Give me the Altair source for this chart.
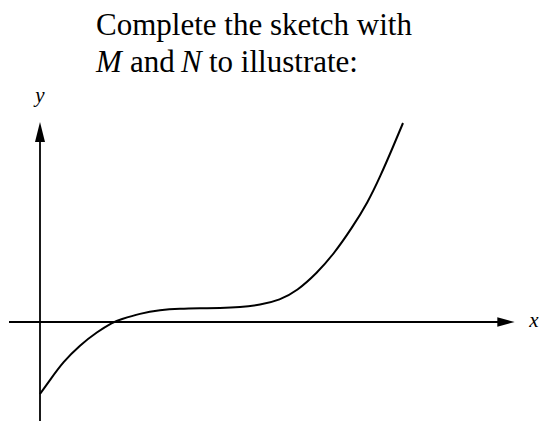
import altair as alt
import pandas as pd

# Curve sample points (x, y) in sketch units
curve_x = [0.0, 0.5, 1.15, 2.0, 2.85, 3.65, 4.0, 5.0, 6.0, 7.0, 8.0, 9.0, 10.0,
           11.0, 12.0, 12.85, 13.85, 14.65, 15.6, 16.4, 17.0, 17.65, 18.15]
curve_y = [-3.6, -2.9, -2.0, -1.15, -0.5, 0.0, 0.12, 0.43, 0.6, 0.665, 0.685, 0.7, 0.74,
           0.85, 1.1, 1.55, 2.45, 3.35, 4.7, 6.0, 7.25, 8.75, 9.95]

# Axis extents
x_axis_from, x_axis_to = -1.55, 23.3
y_axis_from, y_axis_to = -4.95, 9.6

# Heading pieces: text, italic?, x start, baseline y
heading_text = ["Complete the sketch with", "M", "and", "N", "to illustrate:"]
heading_italic = [False, True, False, True, False]
heading_x = [2.8, 2.8, 4.5, 7.05, 8.45]
heading_y = [14.35, 12.5, 12.5, 12.5, 12.5]

XS = alt.Scale(domain=[-2, 25], nice=False, zero=False)
YS = alt.Scale(domain=[-5.15, 16.1], nice=False, zero=False)

curve = pd.DataFrame({"x": curve_x, "y": curve_y})
curve_chart = alt.Chart(curve).mark_line(
    color="black", strokeWidth=2, interpolate="basis"
).encode(
    x=alt.X("x:Q", scale=XS, axis=None),
    y=alt.Y("y:Q", scale=YS, axis=None),
)

x_axis = alt.Chart(pd.DataFrame({"x": [x_axis_from], "x2": [x_axis_to], "y": [0]})).mark_rule(
    color="black", strokeWidth=1.8
).encode(x=alt.X("x:Q", scale=XS, axis=None), x2="x2:Q", y=alt.Y("y:Q", scale=YS, axis=None))

y_axis = alt.Chart(pd.DataFrame({"x": [0], "y": [y_axis_from], "y2": [y_axis_to]})).mark_rule(
    color="black", strokeWidth=1.8
).encode(x=alt.X("x:Q", scale=XS, axis=None), y=alt.Y("y:Q", scale=YS, axis=None), y2="y2:Q")

x_arrow = alt.Chart(pd.DataFrame({"x": [23.3], "y": [0]})).mark_point(
    shape="M1,0L-1,0.55L-1,-0.55Z", size=300, filled=True, color="black", opacity=1
).encode(x=alt.X("x:Q", scale=XS, axis=None), y=alt.Y("y:Q", scale=YS, axis=None))

y_arrow = alt.Chart(pd.DataFrame({"x": [0], "y": [9.5]})).mark_point(
    shape="M0,-1L0.5,1L-0.5,1Z", size=400, filled=True, color="black", opacity=1
).encode(x=alt.X("x:Q", scale=XS, axis=None), y=alt.Y("y:Q", scale=YS, axis=None))

axis_labels = pd.DataFrame({"t": ["x", "y"], "x": [24.7, 0.0], "y": [-0.25, 11.0]})
axis_label_chart = alt.Chart(axis_labels).mark_text(
    font="Liberation Serif", fontSize=21, fontStyle="italic", align="center",
    baseline="alphabetic", color="black"
).encode(x=alt.X("x:Q", scale=XS, axis=None), y=alt.Y("y:Q", scale=YS, axis=None), text="t:N")

heading = pd.DataFrame({"t": heading_text, "it": heading_italic, "x": heading_x, "y": heading_y})
heading_upright = alt.Chart(heading).transform_filter("!datum.it").mark_text(
    font="Liberation Serif", fontSize=31, align="left", baseline="alphabetic", color="black"
).encode(x=alt.X("x:Q", scale=XS, axis=None), y=alt.Y("y:Q", scale=YS, axis=None), text="t:N")
heading_italic_chart = alt.Chart(heading).transform_filter("datum.it").mark_text(
    font="Liberation Serif", fontSize=31, fontStyle="italic", align="left",
    baseline="alphabetic", color="black"
).encode(x=alt.X("x:Q", scale=XS, axis=None), y=alt.Y("y:Q", scale=YS, axis=None), text="t:N")

chart = alt.layer(
    x_axis, y_axis, x_arrow, y_arrow, curve_chart, axis_label_chart,
    heading_upright, heading_italic_chart
).properties(
    width=540, height=425, autosize=alt.AutoSizeParams(type="none"), padding=0,
    background="white"
).configure_view(stroke=None)

chart.save("out.html", embed_options={"renderer": "svg", "actions": False})
